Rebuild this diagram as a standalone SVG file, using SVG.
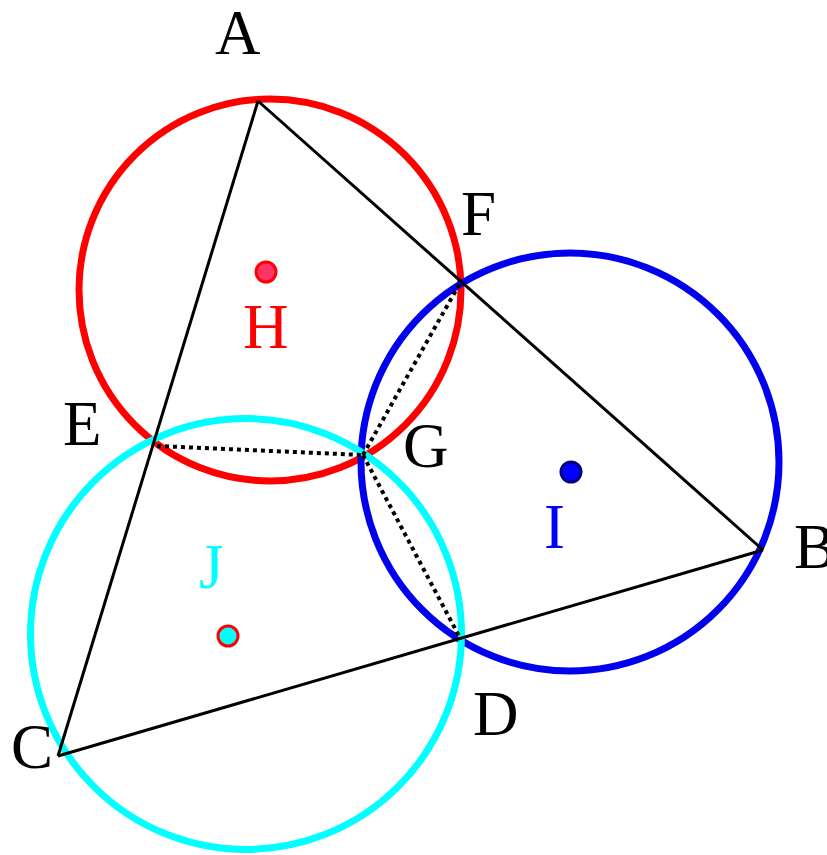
<svg xmlns="http://www.w3.org/2000/svg" width="827" height="855" viewBox="0 0 827 855">
<style>
.lbl{font-family:"Liberation Serif","Times New Roman",serif;font-size:63px;}
.edge{stroke:#000;stroke-width:3;fill:none;}
.dot{stroke:#000;stroke-width:4;stroke-dasharray:4 4;fill:none;}
.circ{fill:none;stroke-width:7;}
</style>
<rect width="827" height="855" fill="#fff"/>
<g id="circles">
<circle id="circleH" class="circ" cx="270" cy="290" r="191" stroke="#ff0000"/>
<circle id="circleI" class="circ" cx="570" cy="462" r="209" stroke="#0000ee"/>
<circle id="circleJ" class="circ" cx="246" cy="634" r="215.5" stroke="#00ffff"/>
</g>
<g id="connectors">
<line class="edge" x1="258" y1="101" x2="58" y2="756"/>
<line class="edge" x1="258" y1="101" x2="763" y2="550"/>
<line class="edge" x1="58" y1="756" x2="763" y2="550"/>
<line class="dot" x1="157" y1="446" x2="363" y2="455"/>
<line class="dot" x1="363" y1="455" x2="460" y2="283"/>
<line class="dot" x1="363" y1="455" x2="459" y2="636"/>
</g>
<g id="A"><text class="lbl" x="215" y="54">A</text></g>
<g id="B"><text class="lbl" x="794" y="568">B</text></g>
<g id="C"><text class="lbl" x="11" y="768">C</text></g>
<g id="D"><text class="lbl" x="473" y="735">D</text></g>
<g id="E"><text class="lbl" x="63" y="445">E</text></g>
<g id="F"><text class="lbl" x="461" y="235">F</text></g>
<g id="G"><text class="lbl" x="403" y="467">G</text></g>
<g id="H">
<circle cx="266" cy="272" r="10" fill="#ff3366" stroke="#ff0000" stroke-width="3"/>
<text class="lbl" x="243" y="348" fill="#ff0000">H</text>
</g>
<g id="I">
<circle cx="571" cy="472" r="10" fill="#0000ff" stroke="#000080" stroke-width="3"/>
<text class="lbl" x="544" y="548" fill="#0000ff">I</text>
</g>
<g id="J">
<circle cx="228" cy="636" r="10" fill="#00ffff" stroke="#ff0000" stroke-width="3"/>
<text class="lbl" x="199" y="588" fill="#00ffff">J</text>
</g>
</svg>
